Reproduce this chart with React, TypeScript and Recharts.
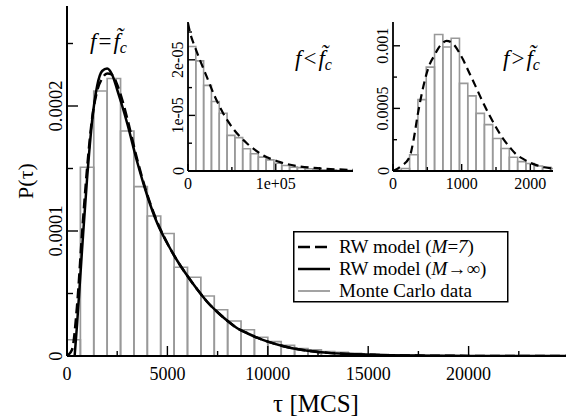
import React from "react";
import { ComposedChart, Line, XAxis, YAxis, ReferenceArea, Legend, CartesianGrid } from "recharts";

const FONT = "Liberation Serif, DejaVu Serif, Times, serif";

// ---- main panel (f = f_c) ----
const mainBinWidth = 666.67;
const mainBinP = [
  0.13e-4, 1.51e-4, 2.12e-4, 2.22e-4, 1.8e-4, 1.355e-4, 1.12e-4, 0.98e-4, 0.71e-4, 0.63e-4,
  0.48e-4, 0.37e-4, 0.28e-4, 0.21e-4, 0.15e-4, 0.115e-4, 0.085e-4, 0.06e-4, 0.05e-4, 0.035e-4,
  0.03e-4, 0.022e-4, 0.018e-4, 0.012e-4, 0.009e-4, 0.006e-4, 0.004e-4, 0.003e-4,
];
const mainTauInf = [380, 500, 750, 1000, 1250, 1500, 1750, 2000, 2250, 2500, 2750, 3000, 3500, 4000, 4500, 5000, 5500, 6000, 6500, 7000, 7500, 8000, 8500, 9000, 9500, 10000, 11000, 12000, 13000, 14000, 15000, 16000, 17000, 18000, 20000, 22000, 25000];
const mainPInf = [0, 0.25e-4, 0.85e-4, 1.42e-4, 1.88e-4, 2.16e-4, 2.28e-4, 2.3e-4, 2.25e-4, 2.13e-4, 2.0e-4, 1.86e-4, 1.55e-4, 1.28e-4, 1.06e-4, 0.9e-4, 0.76e-4, 0.64e-4, 0.53e-4, 0.43e-4, 0.35e-4, 0.28e-4, 0.22e-4, 0.18e-4, 0.145e-4, 0.115e-4, 0.07e-4, 0.042e-4, 0.025e-4, 0.016e-4, 0.01e-4, 0.006e-4, 0.004e-4, 0.002e-4, 0.001e-4, 0.0005e-4, 0];
const mainTau7 = [0, 250, 500, 750, 1000, 1250, 1500, 1750, 2000, 2250, 2500, 2750, 3000, 3500, 4000, 4500, 5000, 5500, 6000, 6500, 7000, 7500, 8000, 8500, 9000, 9500, 10000, 11000, 12000, 13000, 14000, 15000, 16000, 17000, 18000, 20000, 22000, 25000];
const mainP7 = [0, 0.05e-4, 0.4e-4, 0.98e-4, 1.5e-4, 1.9e-4, 2.12e-4, 2.22e-4, 2.26e-4, 2.25e-4, 2.17e-4, 2.05e-4, 1.9e-4, 1.57e-4, 1.29e-4, 1.07e-4, 0.9e-4, 0.76e-4, 0.64e-4, 0.53e-4, 0.43e-4, 0.35e-4, 0.28e-4, 0.22e-4, 0.18e-4, 0.145e-4, 0.115e-4, 0.07e-4, 0.042e-4, 0.025e-4, 0.016e-4, 0.01e-4, 0.006e-4, 0.004e-4, 0.002e-4, 0.001e-4, 0.0005e-4, 0];

const mainTicksX = [0, 2500, 5000, 7500, 10000, 12500, 15000, 17500, 20000, 22500, 25000];
const mainMajorX = [0, 5000, 10000, 15000, 20000];
const mainLabelsX = ["0", "5000", "10000", "15000", "20000"];
const mainTicksY = [0, 0.00005, 0.0001, 0.00015, 0.0002, 0.00025];
const mainMajorY = [0, 0.0001, 0.0002];
const mainLabelsY = ["0", "0.0001", "0.0002"];

// ---- inset 1 (f < f_c) ----
const lowBinWidth = 8900;
const lowBinP = [
  2.24e-5, 1.98e-5, 1.54e-5, 1.25e-5, 1.04e-5, 0.64e-5, 0.6e-5, 0.4e-5, 0.31e-5, 0.25e-5,
  0.2e-5, 0.14e-5, 0.1e-5, 0.07e-5, 0.06e-5, 0.04e-5, 0.03e-5, 0.02e-5, 0.02e-5, 0.01e-5, 0.01e-5,
];
const lowTau = [0, 3000, 7000, 14000, 22000, 30000, 40000, 52000, 67000, 86000, 105000, 124000, 148000, 188000];
const lowP = [2.66e-5, 2.45e-5, 2.27e-5, 1.98e-5, 1.67e-5, 1.36e-5, 1.04e-5, 0.75e-5, 0.5e-5, 0.28e-5, 0.16e-5, 0.09e-5, 0.05e-5, 0.02e-5];
const lowTicksX = [0, 50000, 100000, 150000];
const lowMajorX = [0, 100000];
const lowLabelsX = ["0", "1e+05"];
const lowTicksY = [0, 0.5e-5, 1e-5, 1.5e-5, 2e-5, 2.5e-5];
const lowMajorY = [0, 1e-5, 2e-5];
const lowLabelsY = ["0", "1e-05", "2e-05"];

// ---- inset 2 (f > f_c) ----
const highBinWidth = 121;
const highBinP = [
  0.000005, 0.00002, 0.00013, 0.00057, 0.00083, 0.00109, 0.00099, 0.00106, 0.0007, 0.0006,
  0.00046, 0.00037, 0.00026, 0.00018, 0.00011, 0.000075, 0.00006, 0.00004, 0.00003, 0.00002,
];
const highTau = [0, 120, 240, 300, 360, 420, 480, 540, 600, 660, 720, 780, 840, 900, 960, 1020, 1080, 1140, 1200, 1300, 1400, 1500, 1600, 1700, 1800, 1900, 2000, 2100, 2200, 2330];
const highP = [0, 0.00004, 0.00011, 0.00025, 0.00045, 0.00062, 0.00076, 0.00086, 0.00092, 0.00098, 0.00102, 0.00104, 0.00103, 0.001, 0.00095, 0.00089, 0.00082, 0.00075, 0.00068, 0.00056, 0.00045, 0.00035, 0.00026, 0.00019, 0.00013, 0.000095, 0.000065, 0.000045, 0.00003, 0.00002];
const highTicksX = [0, 500, 1000, 1500, 2000];
const highMajorX = [0, 1000, 2000];
const highLabelsX = ["0", "1000", "2000"];
const highTicksY = [0, 0.00025, 0.0005, 0.00075, 0.001];
const highMajorY = [0, 0.0005, 0.001];
const highLabelsY = ["0", "0.0005", "0.001"];

const legendItems = ["dash", "solid", "mc"];

const toPoints = (t: number[], p: number[]) => t.map((tau, i) => ({ tau, p: p[i] }));
const toBins = (w: number, p: number[]) => p.map((v, i) => ({ lo: i * w, hi: (i + 1) * w, v }));

type TickOpts = {
  side: "bottom" | "top" | "left" | "right";
  majors: number[];
  labels?: string[];
  big: number;
  small: number;
  size?: number;
  gap?: number;
};

const txt = { fontFamily: FONT };

const makeTick = (o: TickOpts) => (props: any) => {
  const { x, y, payload } = props;
  const i = o.majors.indexOf(payload.value);
  const len = i >= 0 ? o.big : o.small;
  let x2 = x, y2 = y;
  if (o.side === "bottom") y2 = y - len;
  if (o.side === "top") y2 = y + len;
  if (o.side === "left") x2 = x + len;
  if (o.side === "right") x2 = x - len;
  let label = null;
  if (i >= 0 && o.labels) {
    if (o.side === "bottom")
      label = (
        <text x={x} y={y + (o.gap || 0)} textAnchor="middle" fontSize={o.size} style={txt} fill="#000">
          {o.labels[i]}
        </text>
      );
    if (o.side === "left") {
      const lx = x - (o.gap || 0);
      label = (
        <text x={lx} y={y} transform={`rotate(-90 ${lx} ${y})`} textAnchor="middle" fontSize={o.size} style={txt} fill="#000">
          {o.labels[i]}
        </text>
      );
    }
  }
  return (
    <g>
      <line x1={x} y1={y} x2={x2} y2={y2} stroke="#000" strokeWidth={1.4} />
      {label}
    </g>
  );
};

const FLabel = ({ x, y, op, size }: { x: number; y: number; op: string; size: number }) => (
  <text x={x} y={y} fontSize={size} style={txt} fill="#000">
    <tspan fontStyle="italic">f</tspan>
    <tspan dx={2}>{op}</tspan>
    <tspan dx={2} fontStyle="italic">{"f\u0303"}</tspan>
    <tspan fontStyle="italic" fontSize={size * 0.7} dy={4}>c</tspan>
  </text>
);

const axisLine = { stroke: "#000", strokeWidth: 1.8 };

function LegendBox() {
  return (
    <svg width={216} height={72} style={{ display: "block" }}>
      <rect x={0.75} y={0.75} width={214} height={70} fill="#fff" stroke="#000" strokeWidth={1.5} />
      {legendItems.map((k, i) => {
        const cy = 16 + i * 22;
        return (
          <g key={k}>
            <line x1={5} x2={37} y1={cy} y2={cy}
              stroke={k === "mc" ? "#999" : "#000"} strokeWidth={k === "mc" ? 1.8 : 2.5}
              strokeDasharray={k === "dash" ? "12 5" : undefined} />
            <text x={46} y={cy + 6} fontSize={19} style={txt} fill="#000">
              {k === "dash" && (<>RW model (<tspan fontStyle="italic">M</tspan>=<tspan fontStyle="italic">7</tspan>)</>)}
              {k === "solid" && (<>RW model (<tspan fontStyle="italic">M</tspan>{"\u2192\u221e)"}</>)}
              {k === "mc" && "Monte Carlo data"}
            </text>
          </g>
        );
      })}
    </svg>
  );
}

function Inset(props: {
  left: number; width: number; yw: number; rm: number;
  xDomain: number[]; yDomain: number[];
  ticksX: number[]; majorX: number[]; labelsX: string[];
  ticksY: number[]; majorY: number[]; labelsY: string[];
  bins: { lo: number; hi: number; v: number }[];
  curve: { tau: number; p: number }[];
  op: string; lx: number;
}) {
  const p = props;
  return (
    <div style={{ position: "absolute", left: p.left, top: 0 }}>
      <ComposedChart width={p.width} height={200} margin={{ top: 22, right: p.rm, bottom: 0, left: 0 }}>
        <CartesianGrid horizontal={false} vertical={false} fill="#fff" fillOpacity={1} />
        <XAxis xAxisId="b" dataKey="tau" type="number" domain={p.xDomain} allowDataOverflow ticks={p.ticksX}
          interval={0} height={29} tickSize={0} tickMargin={0} tickLine={false} axisLine={axisLine}
          tick={makeTick({ side: "bottom", majors: p.majorX, labels: p.labelsX, big: 7, small: 4, size: 16, gap: 17.5 })} />
        <XAxis xAxisId="t" orientation="top" dataKey="tau" type="number" domain={p.xDomain} allowDataOverflow ticks={p.ticksX}
          interval={0} height={0} tickSize={0} tickMargin={0} tickLine={false} axisLine={axisLine}
          tick={makeTick({ side: "top", majors: p.majorX, big: 7, small: 4 })} />
        <YAxis yAxisId="l" type="number" domain={p.yDomain} allowDataOverflow ticks={p.ticksY} interval={0}
          width={p.yw} tickSize={0} tickMargin={0} tickLine={false} axisLine={axisLine}
          tick={makeTick({ side: "left", majors: p.majorY, labels: p.labelsY, big: 7, small: 4, size: 16, gap: 4.5 })}
          label={{ content: ({ viewBox }: any) => (
            <FLabel x={viewBox.x + viewBox.width + p.lx} y={viewBox.y + 44} op={p.op} size={23} />
          ) }} />
        <YAxis yAxisId="r" orientation="right" type="number" domain={p.yDomain} allowDataOverflow ticks={p.ticksY} interval={0}
          width={0} tickSize={0} tickMargin={0} tickLine={false} axisLine={axisLine}
          tick={makeTick({ side: "right", majors: p.majorY, big: 7, small: 4 })} />
        {p.bins.map((b) => (
          <ReferenceArea key={b.lo} xAxisId="b" yAxisId="l" x1={b.lo} x2={b.hi} y1={0} y2={b.v}
            fill="none" stroke="#999" strokeWidth={1.6} ifOverflow="hidden" />
        ))}
        <Line xAxisId="b" yAxisId="l" data={p.curve} dataKey="p" type="monotone" stroke="#000" strokeWidth={2.2}
          strokeDasharray="8 5" dot={false} isAnimationActive={false} />
      </ComposedChart>
    </div>
  );
}

export default function App() {
  const bins = toBins(mainBinWidth, mainBinP);
  return (
    <div style={{ position: "absolute", left: 0, top: 0, width: 566, height: 416, overflow: "hidden", background: "#fff", fontFamily: FONT }}>
      <ComposedChart width={580} height={416} margin={{ top: 6, right: 11, bottom: 0, left: 0 }}>
        <XAxis xAxisId="b" dataKey="tau" type="number" domain={[0, 25000]} allowDataOverflow ticks={mainTicksX}
          interval={0} height={60} tickSize={0} tickMargin={0} tickLine={false} axisLine={{ stroke: "#000", strokeWidth: 2 }}
          tick={makeTick({ side: "bottom", majors: mainMajorX, labels: mainLabelsX, big: 10, small: 5, size: 18, gap: 23.5 })}
          label={{ content: ({ viewBox }: any) => (
            <text x={viewBox.x + viewBox.width / 2 - 2} y={412} textAnchor="middle" fontSize={25} style={txt} fill="#000">
              {"\u03c4 [MCS]"}
            </text>
          ) }} />
        <XAxis xAxisId="t" orientation="top" dataKey="tau" type="number" domain={[0, 25000]} allowDataOverflow ticks={mainTicksX}
          interval={0} height={0} tickSize={0} tickMargin={0} tickLine={false} axisLine={{ stroke: "#000", strokeWidth: 2 }}
          tick={makeTick({ side: "top", majors: mainMajorX, big: 10, small: 5 })} />
        <YAxis yAxisId="l" type="number" domain={[0, 0.00028]} allowDataOverflow ticks={mainTicksY} interval={0}
          width={67} tickSize={0} tickMargin={0} tickLine={false} axisLine={{ stroke: "#000", strokeWidth: 2 }}
          tick={makeTick({ side: "left", majors: mainMajorY, labels: mainLabelsY, big: 11, small: 6, size: 18.5, gap: 5.5 })}
          label={{ content: ({ viewBox }: any) => {
            const cy = viewBox.y + viewBox.height / 2;
            return (
              <g>
                <text x={33} y={cy} transform={`rotate(-90 33 ${cy})`} textAnchor="middle" fontSize={22} style={txt} fill="#000">
                  {"P(\u03c4)"}
                </text>
                <FLabel x={viewBox.x + viewBox.width + 23} y={viewBox.y + 43} op="=" size={23} />
              </g>
            );
          } }} />
        <YAxis yAxisId="r" orientation="right" type="number" domain={[0, 0.00028]} allowDataOverflow ticks={mainTicksY} interval={0}
          width={0} tickSize={0} tickMargin={0} tickLine={false} axisLine={{ stroke: "#000", strokeWidth: 2 }}
          tick={makeTick({ side: "right", majors: mainMajorY, big: 11, small: 6 })} />
        {bins.map((b) => (
          <ReferenceArea key={b.lo} xAxisId="b" yAxisId="l" x1={b.lo} x2={b.hi} y1={0} y2={b.v}
            fill="none" stroke="#999" strokeWidth={1.7} ifOverflow="hidden" />
        ))}
        <Line xAxisId="b" yAxisId="l" data={toPoints(mainTauInf, mainPInf)} dataKey="p" type="monotone"
          stroke="#000" strokeWidth={2.5} dot={false} isAnimationActive={false} />
        <Line xAxisId="b" yAxisId="l" data={toPoints(mainTau7, mainP7)} dataKey="p" type="monotone"
          stroke="#000" strokeWidth={2.5} strokeDasharray="10 5" dot={false} isAnimationActive={false} />
        <Legend layout="horizontal" verticalAlign="middle" align="center" content={() => <LegendBox />}
          wrapperStyle={{ left: 293, top: 231, width: 216, height: 72 }} />
      </ComposedChart>
      <Inset left={150} width={215} yw={38} rm={12} xDomain={[0, 188000]} yDomain={[0, 2.68e-5]}
        ticksX={lowTicksX} majorX={lowMajorX} labelsX={lowLabelsX}
        ticksY={lowTicksY} majorY={lowMajorY} labelsY={lowLabelsY}
        bins={toBins(lowBinWidth, lowBinP)} curve={toPoints(lowTau, lowP)} op="<" lx={107} />
      <Inset left={355} width={211} yw={38} rm={13} xDomain={[0, 2330]} yDomain={[0, 0.00119]}
        ticksX={highTicksX} majorX={highMajorX} labelsX={highLabelsX}
        ticksY={highTicksY} majorY={highMajorY} labelsY={highLabelsY}
        bins={toBins(highBinWidth, highBinP)} curve={toPoints(highTau, highP)} op=">" lx={110} />
    </div>
  );
}
